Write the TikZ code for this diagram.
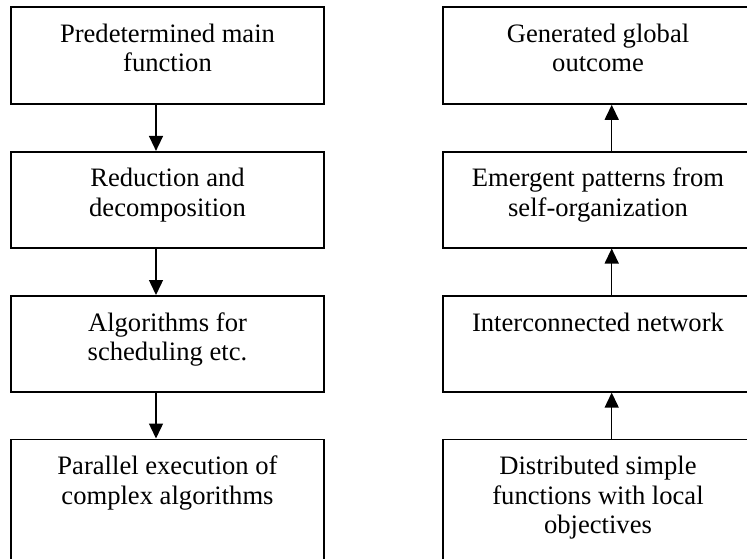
\documentclass[tikz,border=0pt]{standalone}
\usepackage{fontspec}
\setmainfont{Liberation Serif}
\usetikzlibrary{arrows.meta}
\begin{document}
\begin{tikzpicture}[x=1pt,y=-1pt,
  box/.style={draw=black,line width=1.6pt,rectangle,inner sep=0pt,minimum width=313pt},
  txt/.style={inner sep=0pt,anchor=base,font=\fontsize{26.6}{29.7}\selectfont},
  arr/.style={line width=1.4pt,-{Triangle[length=15pt,width=14pt]}}]
\useasboundingbox (0,0) rectangle (747,558);
\clip (0,0) rectangle (747,558);
% left column
\node[box,minimum height=97pt] (l1) at (167.5,55.5) {};
\node[box,minimum height=96pt] (l2) at (167.5,199.7) {};
\node[box,minimum height=96pt] (l3) at (167.5,343.8) {};
\node[box,minimum height=140pt] (l4) at (167.5,509.3) {};
% right column
\node[box,minimum height=97pt,minimum width=310pt] (r1) at (598,55.5) {};
\node[box,minimum height=96pt,minimum width=310pt] (r2) at (598,199.7) {};
\node[box,minimum height=96pt,minimum width=310pt] (r3) at (598,343.8) {};
\node[box,minimum height=140pt,minimum width=310pt] (r4) at (598,509.3) {};
% texts
\newcommand{\lt}[1]{\parbox[t]{300pt}{\centering #1}}
\node[txt] (l1t) at ([yshift=-36]l1.north) {\lt{Predetermined main\\function}};
\node[txt] (l2t) at ([yshift=-36]l2.north) {\lt{Reduction and\\decomposition}};
\node[txt] (l3t) at ([yshift=-36]l3.north) {\lt{Algorithms for\\scheduling etc.}};
\node[txt] (l4t) at ([yshift=-36]l4.north) {\lt{Parallel execution of\\complex algorithms}};
\node[txt] (r1t) at ([yshift=-36]r1.north) {\lt{Generated global\\outcome}};
\node[txt] (r2t) at ([yshift=-36]r2.north) {\lt{Emergent patterns from\\self-organization}};
\node[txt] (r3t) at ([yshift=-36]r3.north) {\lt{Interconnected network}};
\node[txt] (r4t) at ([yshift=-36]r4.north) {\lt{Distributed simple\\functions with local\\objectives}};
% arrows
\draw[arr] ([xshift=-11.5]l1.south) -- ([xshift=-11.5]l2.north);
\draw[arr] ([xshift=-11.5]l2.south) -- ([xshift=-11.5]l3.north);
\draw[arr] ([xshift=-11.5]l3.south) -- ([xshift=-11.5]l4.north);
\draw[arr] ([xshift=13.7]r4.north) -- ([xshift=13.7]r3.south);
\draw[arr] ([xshift=13.7]r3.north) -- ([xshift=13.7]r2.south);
\draw[arr] ([xshift=13.7]r2.north) -- ([xshift=13.7]r1.south);
\end{tikzpicture}
\end{document}
